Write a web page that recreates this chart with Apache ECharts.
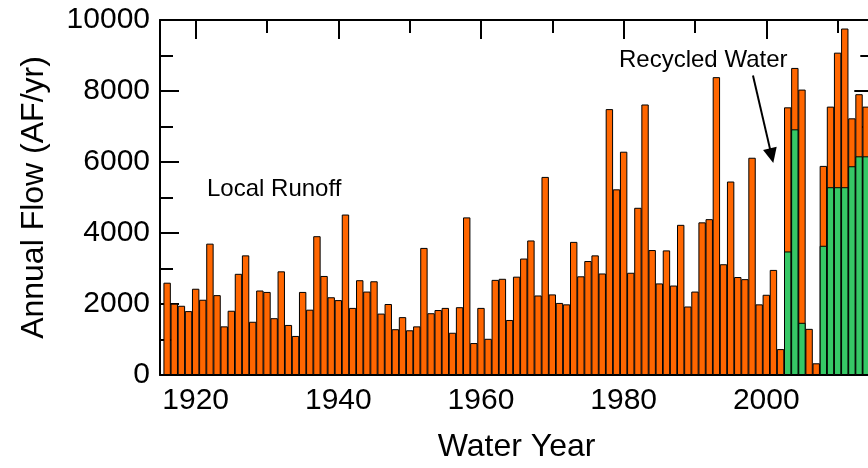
<!DOCTYPE html>
<html>
<head>
<meta charset="utf-8">
<script src="https://cdn.jsdelivr.net/npm/echarts@6/dist/echarts.min.js"></script>
<style>
  html, body { margin: 0; padding: 0; overflow: hidden; background: #fff; }
  #chart { width: 880px; height: 468px; }
</style>
</head>
<body>
<div id="chart"></div>
<script>
// Water years shown on the chart
const years = [
  1916, 1917, 1918, 1919, 1920, 1921, 1922, 1923, 1924, 1925,
  1926, 1927, 1928, 1929, 1930, 1931, 1932, 1933, 1934, 1935,
  1936, 1937, 1938, 1939, 1940, 1941, 1942, 1943, 1944, 1945,
  1946, 1947, 1948, 1949, 1950, 1951, 1952, 1953, 1954, 1955,
  1956, 1957, 1958, 1959, 1960, 1961, 1962, 1963, 1964, 1965,
  1966, 1967, 1968, 1969, 1970, 1971, 1972, 1973, 1974, 1975,
  1976, 1977, 1978, 1979, 1980, 1981, 1982, 1983, 1984, 1985,
  1986, 1987, 1988, 1989, 1990, 1991, 1992, 1993, 1994, 1995,
  1996, 1997, 1998, 1999, 2000, 2001, 2002, 2003, 2004, 2005,
  2006, 2007, 2008, 2009, 2010, 2011, 2012, 2013, 2014
];

// Local runoff, AF/yr (one value per water year above)
const localRunoff = [
  2600, 2010, 1950, 1800, 2430, 2120, 3700, 2250, 1370, 1810,
  2850, 3370, 1500, 2380, 2340, 1600, 2920, 1410, 1100, 2340,
  1840, 3910, 2790, 2190, 2110, 4520, 1890, 2670, 2350, 2640,
  1730, 2000, 1290, 1630, 1260, 1370, 3580, 1740, 1830, 1890,
  1190, 1910, 4440,  900, 1890, 1020, 2680, 2710, 1550, 2770,
  3280, 3790, 2240, 5580, 2270, 2030, 1990, 3750, 2780, 3210,
  3370, 2860, 7490, 5230, 6290, 2880, 4710, 7620, 3520, 2580,
  3510, 2520, 4230, 1930, 2350, 4300, 4390, 8390, 3120, 5450,
  2760, 2700, 6120, 1990, 2260, 2960,  730, 4060, 1730, 6570,
  1300,  330, 2250, 2270, 3790, 4470, 1350, 1750, 1400
];

// Recycled water, AF/yr
const recycledYears = [2003, 2004, 2005, 2006, 2007, 2008, 2009, 2010, 2011, 2012, 2013, 2014];
const recycledWater = [3480, 6920, 1470,    0,    0, 3640, 5290, 5290, 5290, 5880, 6160, 6160];

// Axis ticks
const yearLabels = [1920, 1940, 1960, 1980, 2000];
const yearMinorTicks = [1930, 1950, 1970, 1990, 2010];

const FONT = 'Liberation Sans, Arial, sans-serif';
const ORANGE = '#FF6600';
const GREEN = '#36C866';

const recycledByYear = {};
recycledYears.forEach((y, i) => { recycledByYear[y] = recycledWater[i]; });

// Orange bars run from 0 to the total; green bars sit over their lower part
const totalData = years.map((y, i) => [y, localRunoff[i] + (recycledByYear[y] || 0)]);
const recycledData = recycledYears
  .map((y, i) => [y, recycledWater[i]])
  .filter(d => d[1] > 0);

const axisLine = { show: true, lineStyle: { color: '#000', width: 2 } };
const xRange = { type: 'value', min: 1915, max: 2015, splitLine: { show: false } };
const yRange = { type: 'value', min: 0, max: 10000, interval: 2000, splitLine: { show: false } };

const chart = echarts.init(document.getElementById('chart'), null, { renderer: 'canvas' });

chart.setOption({
  animation: false,
  backgroundColor: '#fff',
  grid: { left: 160, top: 20, right: 6.7, bottom: 90.3, containLabel: false },
  xAxis: [
    Object.assign({}, xRange, {
      position: 'bottom',
      axisLine: axisLine,
      axisTick: { show: true, inside: true, length: 19, customValues: yearLabels,
                  lineStyle: { color: '#000', width: 2 } },
      axisLabel: { show: true, customValues: yearLabels, formatter: v => String(v),
                   color: '#000', fontSize: 30, fontFamily: FONT, margin: 11 },
      name: 'Water Year', nameLocation: 'middle', nameGap: 56,
      nameTextStyle: { color: '#000', fontSize: 32, fontFamily: FONT }
    }),
    Object.assign({}, xRange, {
      position: 'bottom',
      axisLine: { show: false },
      axisTick: { show: true, inside: true, length: 13, customValues: yearMinorTicks,
                  lineStyle: { color: '#000', width: 2 } },
      axisLabel: { show: false }
    }),
    Object.assign({}, xRange, {
      position: 'top',
      axisLine: axisLine,
      axisTick: { show: true, inside: true, length: 19, customValues: yearLabels,
                  lineStyle: { color: '#000', width: 2 } },
      axisLabel: { show: false }
    }),
    Object.assign({}, xRange, {
      position: 'top',
      axisLine: { show: false },
      axisTick: { show: true, inside: true, length: 13, customValues: yearMinorTicks,
                  lineStyle: { color: '#000', width: 2 } },
      axisLabel: { show: false }
    })
  ],
  yAxis: [
    Object.assign({}, yRange, {
      position: 'left',
      axisLine: axisLine,
      axisTick: { show: true, inside: true, length: 19, lineStyle: { color: '#000', width: 2 } },
      minorTick: { show: true, splitNumber: 2, length: 13, lineStyle: { color: '#000', width: 2 } },
      axisLabel: { color: '#000', fontSize: 30, fontFamily: FONT, margin: 10, formatter: v => String(v) },
      name: 'Annual Flow (AF/yr)', nameLocation: 'middle', nameGap: 110,
      nameTextStyle: { color: '#000', fontSize: 32, fontFamily: FONT }
    }),
    Object.assign({}, yRange, {
      position: 'right',
      axisLine: axisLine,
      axisTick: { show: true, inside: true, length: 19, lineStyle: { color: '#000', width: 2 } },
      minorTick: { show: true, splitNumber: 2, length: 13, lineStyle: { color: '#000', width: 2 } },
      axisLabel: { show: false }
    })
  ],
  series: [
    {
      name: 'Local Runoff',
      type: 'bar',
      xAxisIndex: 0,
      yAxisIndex: 0,
      data: totalData,
      barWidth: 7.4,
      barGap: '-100%',
      z: 2,
      itemStyle: { color: ORANGE, borderColor: '#000', borderWidth: 1 }
    },
    {
      name: 'Recycled Water',
      type: 'bar',
      xAxisIndex: 0,
      yAxisIndex: 0,
      data: recycledData,
      barWidth: 7.4,
      barGap: '-100%',
      z: 3,
      itemStyle: { color: GREEN, borderColor: '#000', borderWidth: 1 },
      markLine: {
        silent: true,
        symbol: ['none', 'triangle'],
        symbolSize: [14, 15],
        label: { show: false },
        lineStyle: { color: '#000', width: 2, type: 'solid' },
        data: [[{ coord: [1998.13, 8436] }, { coord: [2000.74, 6179] }]]
      }
    }
  ],
  graphic: [
    {
      type: 'text', left: 207, top: 177,
      style: { text: 'Local Runoff', fill: '#000', fontSize: 24, fontFamily: FONT }
    },
    {
      type: 'text', left: 619, top: 48,
      style: { text: 'Recycled Water', fill: '#000', fontSize: 24, fontFamily: FONT }
    }
  ]
});
</script>
</body>
</html>
